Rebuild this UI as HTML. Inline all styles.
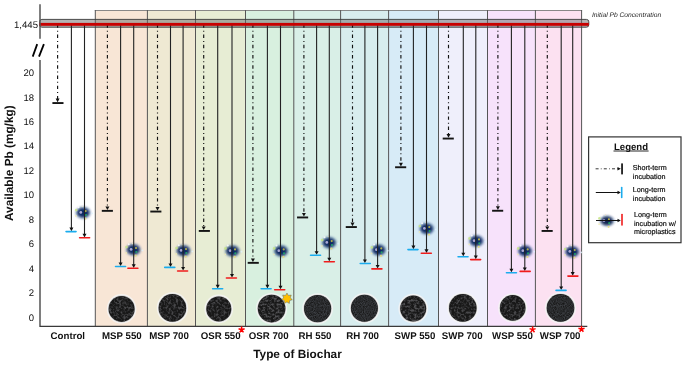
<!DOCTYPE html>
<html><head><meta charset="utf-8"><style>
html,body{margin:0;padding:0;background:#fff;width:685px;height:368px;overflow:hidden}
svg{display:block;will-change:transform}
text{font-family:"Liberation Sans", sans-serif;text-rendering:geometricPrecision}
</style></head><body>
<svg width="685" height="368" viewBox="0 0 685 368">
<defs>
<radialGradient id="blob" cx="50%" cy="50%" r="50%">
<stop offset="0" stop-color="#0a2456" stop-opacity="1"/>
<stop offset="0.35" stop-color="#0d2a62" stop-opacity="0.97"/>
<stop offset="0.6" stop-color="#28488a" stop-opacity="0.6"/>
<stop offset="0.82" stop-color="#7890c0" stop-opacity="0.22"/>
<stop offset="1" stop-color="#b0c4e4" stop-opacity="0"/>
</radialGradient>
<radialGradient id="halo" cx="50%" cy="50%" r="50%">
<stop offset="0.82" stop-color="#e8e8e8" stop-opacity="1"/>
<stop offset="1" stop-color="#ffffff" stop-opacity="0"/>
</radialGradient>
<radialGradient id="glow" cx="50%" cy="50%" r="50%">
<stop offset="0" stop-color="#2a4478" stop-opacity="0.6"/>
<stop offset="0.6" stop-color="#7088b4" stop-opacity="0.3"/>
<stop offset="1" stop-color="#c0d0ea" stop-opacity="0"/>
</radialGradient>
<filter id="bblur" x="-50%" y="-50%" width="200%" height="200%"><feGaussianBlur stdDeviation="1.6"/></filter>
<filter id="soft2" x="-20%" y="-20%" width="140%" height="140%"><feGaussianBlur stdDeviation="0.7"/></filter>
<filter id="soft" x="-20%" y="-20%" width="140%" height="140%"><feGaussianBlur stdDeviation="0.5"/></filter>
<filter id="speck1" x="0" y="0" width="100%" height="100%" color-interpolation-filters="sRGB">
<feTurbulence type="fractalNoise" baseFrequency="0.42" numOctaves="2" seed="3" result="n"/>
<feColorMatrix in="n" type="matrix" values="0 0 0 0 0.28  0 0 0 0 0.28  0 0 0 0 0.29  0 0 0 3.2 -1.35" result="s"/>
<feComposite in="s" in2="SourceGraphic" operator="in"/>
</filter>
<filter id="speck2" x="0" y="0" width="100%" height="100%" color-interpolation-filters="sRGB">
<feTurbulence type="fractalNoise" baseFrequency="0.35 0.5" numOctaves="2" seed="7" result="n"/>
<feColorMatrix in="n" type="matrix" values="0 0 0 0 0.31  0 0 0 0 0.31  0 0 0 0 0.32  0 0 0 3.4 -1.4" result="s"/>
<feComposite in="s" in2="SourceGraphic" operator="in"/>
</filter>
<filter id="speck3" x="0" y="0" width="100%" height="100%" color-interpolation-filters="sRGB">
<feTurbulence type="fractalNoise" baseFrequency="1.1" numOctaves="1" seed="11" result="n"/>
<feColorMatrix in="n" type="matrix" values="0 0 0 0 0.24  0 0 0 0 0.25  0 0 0 0 0.27  0 0 0 2.0 -0.5" result="s"/>
<feComposite in="s" in2="SourceGraphic" operator="in"/>
</filter>
<marker id="ah" viewBox="0 0 4 4" refX="2" refY="4" markerWidth="4" markerHeight="4" markerUnits="userSpaceOnUse" orient="auto"></marker>
</defs>

<rect x="95.3" y="10.5" width="52.1" height="315.8" fill="#F8E6D6"/>
<rect x="147.4" y="10.5" width="48.1" height="315.8" fill="#EFE9D3"/>
<rect x="195.5" y="10.5" width="50.0" height="315.8" fill="#E7EDD4"/>
<rect x="245.5" y="10.5" width="48.3" height="315.8" fill="#D8F0DF"/>
<rect x="293.8" y="10.5" width="46.8" height="315.8" fill="#D9EFE7"/>
<rect x="340.6" y="10.5" width="48.0" height="315.8" fill="#D8EDEE"/>
<rect x="388.6" y="10.5" width="49.9" height="315.8" fill="#D7EBF7"/>
<rect x="438.5" y="10.5" width="49.0" height="315.8" fill="#EFEFFB"/>
<rect x="487.5" y="10.5" width="47.9" height="315.8" fill="#F7E2FB"/>
<rect x="535.4" y="10.5" width="46.2" height="315.8" fill="#FCE1F1"/>
<line x1="94.8" y1="10.5" x2="582.1" y2="10.5" stroke="#7c7c7c" stroke-width="0.9"/>
<line x1="95.3" y1="10.1" x2="95.3" y2="326.3" stroke="#555" stroke-width="1"/>
<line x1="147.4" y1="10.1" x2="147.4" y2="326.3" stroke="#555" stroke-width="1"/>
<line x1="195.5" y1="10.1" x2="195.5" y2="326.3" stroke="#555" stroke-width="1"/>
<line x1="245.5" y1="10.1" x2="245.5" y2="326.3" stroke="#555" stroke-width="1"/>
<line x1="293.8" y1="10.1" x2="293.8" y2="326.3" stroke="#555" stroke-width="1"/>
<line x1="340.6" y1="10.1" x2="340.6" y2="326.3" stroke="#555" stroke-width="1"/>
<line x1="388.6" y1="10.1" x2="388.6" y2="326.3" stroke="#555" stroke-width="1"/>
<line x1="438.5" y1="10.1" x2="438.5" y2="326.3" stroke="#555" stroke-width="1"/>
<line x1="487.5" y1="10.1" x2="487.5" y2="326.3" stroke="#555" stroke-width="1"/>
<line x1="535.4" y1="10.1" x2="535.4" y2="326.3" stroke="#555" stroke-width="1"/>
<line x1="581.6" y1="10.1" x2="581.6" y2="326.3" stroke="#555" stroke-width="1"/>
<rect x="39.5" y="19.4" width="549.3" height="7.8" rx="2.4" fill="rgba(105,105,105,0.5)" stroke="#3a3a3a" stroke-width="0.9"/>
<circle cx="121.6" cy="308.9" r="14.8" fill="#f6f6f6" opacity="0.85" filter="url(#soft2)"/>
<circle cx="121.6" cy="308.9" r="13.6" fill="#d0d0d0"/>
<circle cx="121.6" cy="308.9" r="13.0" fill="#181818"/>
<circle cx="121.6" cy="308.9" r="12.7" fill="#fff" filter="url(#speck1)"/>
<circle cx="172.4" cy="307.9" r="15.6" fill="#f6f6f6" opacity="0.85" filter="url(#soft2)"/>
<circle cx="172.4" cy="307.9" r="14.4" fill="#d0d0d0"/>
<circle cx="172.4" cy="307.9" r="13.8" fill="#181818"/>
<circle cx="172.4" cy="307.9" r="13.5" fill="#fff" filter="url(#speck1)"/>
<circle cx="218.8" cy="308.9" r="14.3" fill="#f6f6f6" opacity="0.85" filter="url(#soft2)"/>
<circle cx="218.8" cy="308.9" r="13.1" fill="#d0d0d0"/>
<circle cx="218.8" cy="308.9" r="12.5" fill="#181818"/>
<circle cx="218.8" cy="308.9" r="12.2" fill="#fff" filter="url(#speck1)"/>
<circle cx="271.6" cy="308.6" r="15.6" fill="#f6f6f6" opacity="0.85" filter="url(#soft2)"/>
<circle cx="271.6" cy="308.6" r="14.4" fill="#d0d0d0"/>
<circle cx="271.6" cy="308.6" r="13.8" fill="#181818"/>
<circle cx="271.6" cy="308.6" r="13.5" fill="#fff" filter="url(#speck2)"/>
<circle cx="317.6" cy="308.6" r="15.4" fill="#f6f6f6" opacity="0.85" filter="url(#soft2)"/>
<circle cx="317.6" cy="308.6" r="14.2" fill="#d0d0d0"/>
<circle cx="317.6" cy="308.6" r="13.6" fill="#181818"/>
<circle cx="317.6" cy="308.6" r="13.3" fill="#fff" filter="url(#speck3)"/>
<circle cx="364.4" cy="308.3" r="15.3" fill="#f6f6f6" opacity="0.85" filter="url(#soft2)"/>
<circle cx="364.4" cy="308.3" r="14.1" fill="#d0d0d0"/>
<circle cx="364.4" cy="308.3" r="13.5" fill="#181818"/>
<circle cx="364.4" cy="308.3" r="13.2" fill="#fff" filter="url(#speck3)"/>
<circle cx="413.2" cy="308.6" r="14.8" fill="#f6f6f6" opacity="0.85" filter="url(#soft2)"/>
<circle cx="413.2" cy="308.6" r="13.6" fill="#d0d0d0"/>
<circle cx="413.2" cy="308.6" r="13.0" fill="#181818"/>
<circle cx="413.2" cy="308.6" r="12.7" fill="#fff" filter="url(#speck2)"/>
<circle cx="462.8" cy="307.9" r="15.6" fill="#f6f6f6" opacity="0.85" filter="url(#soft2)"/>
<circle cx="462.8" cy="307.9" r="14.4" fill="#d0d0d0"/>
<circle cx="462.8" cy="307.9" r="13.8" fill="#181818"/>
<circle cx="462.8" cy="307.9" r="13.5" fill="#fff" filter="url(#speck1)"/>
<circle cx="512.7" cy="307.9" r="14.6" fill="#f6f6f6" opacity="0.85" filter="url(#soft2)"/>
<circle cx="512.7" cy="307.9" r="13.4" fill="#d0d0d0"/>
<circle cx="512.7" cy="307.9" r="12.8" fill="#181818"/>
<circle cx="512.7" cy="307.9" r="12.5" fill="#fff" filter="url(#speck1)"/>
<circle cx="560.5" cy="307.9" r="15.6" fill="#f6f6f6" opacity="0.85" filter="url(#soft2)"/>
<circle cx="560.5" cy="307.9" r="14.4" fill="#d0d0d0"/>
<circle cx="560.5" cy="307.9" r="13.8" fill="#181818"/>
<circle cx="560.5" cy="307.9" r="13.5" fill="#fff" filter="url(#speck3)"/>
<polygon points="286.95,293.00 288.43,295.44 291.25,295.07 290.26,297.74 292.31,299.72 289.61,300.62 289.34,303.46 286.95,301.90 284.56,303.46 284.29,300.62 281.59,299.72 283.64,297.74 282.65,295.07 285.47,295.44" fill="#FFC000" stroke="#5a6470" stroke-width="0.5"/>
<ellipse cx="83.1" cy="212.7" rx="9.8" ry="8.4" fill="url(#glow)"/>
<ellipse cx="83.1" cy="212.7" rx="6.4" ry="5.0" fill="#0e2a64" filter="url(#bblur)"/>
<circle cx="78.5" cy="207.2" r="1.0" fill="#ffffff" opacity="0.8" filter="url(#soft)"/>
<circle cx="76.2" cy="210.1" r="1.3" fill="#c8e880" opacity="0.8" filter="url(#soft)"/>
<circle cx="80.8" cy="212.4" r="1.4" fill="#d4c8f0" opacity="0.8" filter="url(#soft)"/>
<circle cx="85.7" cy="211.1" r="1.1" fill="#d8cc48" opacity="0.8" filter="url(#soft)"/>
<circle cx="86.0" cy="215.0" r="1.1" fill="#20b868" opacity="0.8" filter="url(#soft)"/>
<circle cx="85.4" cy="218.6" r="1.1" fill="#f0e070" opacity="0.8" filter="url(#soft)"/>
<circle cx="75.9" cy="216.0" r="0.9" fill="#f4eeb0" opacity="0.8" filter="url(#soft)"/>
<circle cx="82.3" cy="206.5" r="0.7" fill="#f0e8c8" opacity="0.8" filter="url(#soft)"/>
<circle cx="92.2" cy="213.4" r="0.9" fill="#e0f4ff" opacity="0.8" filter="url(#soft)"/>
<line x1="57.6" y1="24.4" x2="57.6" y2="99.0" stroke="#111" stroke-width="1.15" stroke-dasharray="3.4,2.9,1.0,2.92"/>
<path d="M55.60,98.60 L59.60,98.60 L57.60,102.20 Z" fill="#111"/>
<rect x="52.40" y="102.1" width="11.1" height="1.9" fill="#141414"/>
<line x1="71.4" y1="24.4" x2="71.4" y2="228.6" stroke="#222" stroke-width="1.1"/>
<path d="M69.40,227.60 L73.40,227.60 L71.40,231.20 Z" fill="#111"/>
<line x1="66.05" y1="231.6" x2="76.05" y2="231.6" stroke="#1AACEE" stroke-width="1.6" stroke-linecap="round"/>
<line x1="84.5" y1="24.4" x2="84.5" y2="234.8" stroke="#222" stroke-width="1.1"/>
<path d="M82.50,233.80 L86.50,233.80 L84.50,237.40 Z" fill="#111"/>
<line x1="79.60" y1="237.8" x2="89.60" y2="237.8" stroke="#F01C1C" stroke-width="1.6" stroke-linecap="round"/>
<ellipse cx="133.4" cy="249.7" rx="9.8" ry="8.4" fill="url(#glow)"/>
<ellipse cx="133.4" cy="249.7" rx="6.4" ry="5.0" fill="#0e2a64" filter="url(#bblur)"/>
<circle cx="128.8" cy="244.2" r="1.0" fill="#ffffff" opacity="0.8" filter="url(#soft)"/>
<circle cx="126.5" cy="247.1" r="1.3" fill="#c8e880" opacity="0.8" filter="url(#soft)"/>
<circle cx="131.1" cy="249.4" r="1.4" fill="#d4c8f0" opacity="0.8" filter="url(#soft)"/>
<circle cx="136.0" cy="248.1" r="1.1" fill="#d8cc48" opacity="0.8" filter="url(#soft)"/>
<circle cx="136.3" cy="252.0" r="1.1" fill="#20b868" opacity="0.8" filter="url(#soft)"/>
<circle cx="135.7" cy="255.6" r="1.1" fill="#f0e070" opacity="0.8" filter="url(#soft)"/>
<circle cx="126.2" cy="253.0" r="0.9" fill="#f4eeb0" opacity="0.8" filter="url(#soft)"/>
<circle cx="132.6" cy="243.5" r="0.7" fill="#f0e8c8" opacity="0.8" filter="url(#soft)"/>
<circle cx="142.5" cy="250.4" r="0.9" fill="#e0f4ff" opacity="0.8" filter="url(#soft)"/>
<line x1="107.4" y1="24.4" x2="107.4" y2="206.8" stroke="#111" stroke-width="1.15" stroke-dasharray="3.4,2.9,1.0,2.92"/>
<path d="M105.40,206.40 L109.40,206.40 L107.40,210.00 Z" fill="#111"/>
<rect x="101.80" y="209.9" width="11.1" height="1.9" fill="#141414"/>
<line x1="120.6" y1="24.4" x2="120.6" y2="263.5" stroke="#222" stroke-width="1.1"/>
<path d="M118.60,262.50 L122.60,262.50 L120.60,266.10 Z" fill="#111"/>
<line x1="115.55" y1="266.5" x2="125.55" y2="266.5" stroke="#1AACEE" stroke-width="1.6" stroke-linecap="round"/>
<line x1="133.7" y1="24.4" x2="133.7" y2="265.3" stroke="#222" stroke-width="1.1"/>
<path d="M131.70,264.30 L135.70,264.30 L133.70,267.90 Z" fill="#111"/>
<line x1="127.90" y1="268.3" x2="137.90" y2="268.3" stroke="#F01C1C" stroke-width="1.6" stroke-linecap="round"/>
<ellipse cx="183.4" cy="250.7" rx="9.8" ry="8.4" fill="url(#glow)"/>
<ellipse cx="183.4" cy="250.7" rx="6.4" ry="5.0" fill="#0e2a64" filter="url(#bblur)"/>
<circle cx="178.8" cy="245.2" r="1.0" fill="#ffffff" opacity="0.8" filter="url(#soft)"/>
<circle cx="176.5" cy="248.1" r="1.3" fill="#c8e880" opacity="0.8" filter="url(#soft)"/>
<circle cx="181.1" cy="250.4" r="1.4" fill="#d4c8f0" opacity="0.8" filter="url(#soft)"/>
<circle cx="186.0" cy="249.1" r="1.1" fill="#d8cc48" opacity="0.8" filter="url(#soft)"/>
<circle cx="186.3" cy="253.0" r="1.1" fill="#20b868" opacity="0.8" filter="url(#soft)"/>
<circle cx="185.7" cy="256.6" r="1.1" fill="#f0e070" opacity="0.8" filter="url(#soft)"/>
<circle cx="176.2" cy="254.0" r="0.9" fill="#f4eeb0" opacity="0.8" filter="url(#soft)"/>
<circle cx="182.6" cy="244.5" r="0.7" fill="#f0e8c8" opacity="0.8" filter="url(#soft)"/>
<circle cx="192.5" cy="251.4" r="0.9" fill="#e0f4ff" opacity="0.8" filter="url(#soft)"/>
<line x1="157.5" y1="24.4" x2="157.5" y2="207.5" stroke="#111" stroke-width="1.15" stroke-dasharray="3.4,2.9,1.0,2.92"/>
<path d="M155.50,207.10 L159.50,207.10 L157.50,210.70 Z" fill="#111"/>
<rect x="150.30" y="210.6" width="11.1" height="1.9" fill="#141414"/>
<line x1="170.5" y1="24.4" x2="170.5" y2="264.4" stroke="#222" stroke-width="1.1"/>
<path d="M168.50,263.40 L172.50,263.40 L170.50,267.00 Z" fill="#111"/>
<line x1="164.75" y1="267.4" x2="174.75" y2="267.4" stroke="#1AACEE" stroke-width="1.6" stroke-linecap="round"/>
<line x1="183.1" y1="24.4" x2="183.1" y2="268.0" stroke="#222" stroke-width="1.1"/>
<path d="M181.10,267.00 L185.10,267.00 L183.10,270.60 Z" fill="#111"/>
<line x1="177.60" y1="271.0" x2="187.60" y2="271.0" stroke="#F01C1C" stroke-width="1.6" stroke-linecap="round"/>
<ellipse cx="232.4" cy="251.0" rx="9.8" ry="8.4" fill="url(#glow)"/>
<ellipse cx="232.4" cy="251.0" rx="6.4" ry="5.0" fill="#0e2a64" filter="url(#bblur)"/>
<circle cx="227.8" cy="245.5" r="1.0" fill="#ffffff" opacity="0.8" filter="url(#soft)"/>
<circle cx="225.5" cy="248.4" r="1.3" fill="#c8e880" opacity="0.8" filter="url(#soft)"/>
<circle cx="230.1" cy="250.7" r="1.4" fill="#d4c8f0" opacity="0.8" filter="url(#soft)"/>
<circle cx="235.0" cy="249.4" r="1.1" fill="#d8cc48" opacity="0.8" filter="url(#soft)"/>
<circle cx="235.3" cy="253.3" r="1.1" fill="#20b868" opacity="0.8" filter="url(#soft)"/>
<circle cx="234.7" cy="256.9" r="1.1" fill="#f0e070" opacity="0.8" filter="url(#soft)"/>
<circle cx="225.2" cy="254.3" r="0.9" fill="#f4eeb0" opacity="0.8" filter="url(#soft)"/>
<circle cx="231.6" cy="244.8" r="0.7" fill="#f0e8c8" opacity="0.8" filter="url(#soft)"/>
<circle cx="241.5" cy="251.7" r="0.9" fill="#e0f4ff" opacity="0.8" filter="url(#soft)"/>
<line x1="203.7" y1="24.4" x2="203.7" y2="226.9" stroke="#111" stroke-width="1.15" stroke-dasharray="3.4,2.9,1.0,2.92"/>
<path d="M201.70,226.50 L205.70,226.50 L203.70,230.10 Z" fill="#111"/>
<rect x="198.80" y="230.0" width="11.1" height="1.9" fill="#141414"/>
<line x1="217.7" y1="24.4" x2="217.7" y2="285.8" stroke="#222" stroke-width="1.1"/>
<path d="M215.70,284.80 L219.70,284.80 L217.70,288.40 Z" fill="#111"/>
<line x1="212.65" y1="288.8" x2="222.65" y2="288.8" stroke="#1AACEE" stroke-width="1.6" stroke-linecap="round"/>
<line x1="232.0" y1="24.4" x2="232.0" y2="275.0" stroke="#222" stroke-width="1.1"/>
<path d="M230.00,274.00 L234.00,274.00 L232.00,277.60 Z" fill="#111"/>
<line x1="226.40" y1="278.0" x2="236.40" y2="278.0" stroke="#F01C1C" stroke-width="1.6" stroke-linecap="round"/>
<ellipse cx="281.1" cy="251.0" rx="9.8" ry="8.4" fill="url(#glow)"/>
<ellipse cx="281.1" cy="251.0" rx="6.4" ry="5.0" fill="#0e2a64" filter="url(#bblur)"/>
<circle cx="276.5" cy="245.5" r="1.0" fill="#ffffff" opacity="0.8" filter="url(#soft)"/>
<circle cx="274.2" cy="248.4" r="1.3" fill="#c8e880" opacity="0.8" filter="url(#soft)"/>
<circle cx="278.8" cy="250.7" r="1.4" fill="#d4c8f0" opacity="0.8" filter="url(#soft)"/>
<circle cx="283.7" cy="249.4" r="1.1" fill="#d8cc48" opacity="0.8" filter="url(#soft)"/>
<circle cx="284.0" cy="253.3" r="1.1" fill="#20b868" opacity="0.8" filter="url(#soft)"/>
<circle cx="283.4" cy="256.9" r="1.1" fill="#f0e070" opacity="0.8" filter="url(#soft)"/>
<circle cx="273.9" cy="254.3" r="0.9" fill="#f4eeb0" opacity="0.8" filter="url(#soft)"/>
<circle cx="280.3" cy="244.8" r="0.7" fill="#f0e8c8" opacity="0.8" filter="url(#soft)"/>
<circle cx="290.2" cy="251.7" r="0.9" fill="#e0f4ff" opacity="0.8" filter="url(#soft)"/>
<line x1="252.9" y1="24.4" x2="252.9" y2="258.8" stroke="#111" stroke-width="1.15" stroke-dasharray="3.4,2.9,1.0,2.92"/>
<path d="M250.90,258.40 L254.90,258.40 L252.90,262.00 Z" fill="#111"/>
<rect x="247.70" y="261.9" width="11.1" height="1.9" fill="#141414"/>
<line x1="267.4" y1="24.4" x2="267.4" y2="285.8" stroke="#222" stroke-width="1.1"/>
<path d="M265.40,284.80 L269.40,284.80 L267.40,288.40 Z" fill="#111"/>
<line x1="261.10" y1="288.8" x2="271.10" y2="288.8" stroke="#1AACEE" stroke-width="1.6" stroke-linecap="round"/>
<line x1="280.5" y1="24.4" x2="280.5" y2="286.7" stroke="#222" stroke-width="1.1"/>
<path d="M278.50,285.70 L282.50,285.70 L280.50,289.30 Z" fill="#111"/>
<line x1="274.70" y1="289.7" x2="284.70" y2="289.7" stroke="#F01C1C" stroke-width="1.6" stroke-linecap="round"/>
<ellipse cx="329.1" cy="242.7" rx="9.8" ry="8.4" fill="url(#glow)"/>
<ellipse cx="329.1" cy="242.7" rx="6.4" ry="5.0" fill="#0e2a64" filter="url(#bblur)"/>
<circle cx="324.5" cy="237.2" r="1.0" fill="#ffffff" opacity="0.8" filter="url(#soft)"/>
<circle cx="322.2" cy="240.1" r="1.3" fill="#c8e880" opacity="0.8" filter="url(#soft)"/>
<circle cx="326.8" cy="242.4" r="1.4" fill="#d4c8f0" opacity="0.8" filter="url(#soft)"/>
<circle cx="331.7" cy="241.1" r="1.1" fill="#d8cc48" opacity="0.8" filter="url(#soft)"/>
<circle cx="332.0" cy="245.0" r="1.1" fill="#20b868" opacity="0.8" filter="url(#soft)"/>
<circle cx="331.4" cy="248.6" r="1.1" fill="#f0e070" opacity="0.8" filter="url(#soft)"/>
<circle cx="321.9" cy="246.0" r="0.9" fill="#f4eeb0" opacity="0.8" filter="url(#soft)"/>
<circle cx="328.3" cy="236.5" r="0.7" fill="#f0e8c8" opacity="0.8" filter="url(#soft)"/>
<circle cx="338.2" cy="243.4" r="0.9" fill="#e0f4ff" opacity="0.8" filter="url(#soft)"/>
<line x1="303.9" y1="24.4" x2="303.9" y2="213.4" stroke="#111" stroke-width="1.15" stroke-dasharray="3.4,2.9,1.0,2.92"/>
<path d="M301.90,213.00 L305.90,213.00 L303.90,216.60 Z" fill="#111"/>
<rect x="297.05" y="216.5" width="11.1" height="1.9" fill="#141414"/>
<line x1="316.6" y1="24.4" x2="316.6" y2="252.2" stroke="#222" stroke-width="1.1"/>
<path d="M314.60,251.20 L318.60,251.20 L316.60,254.80 Z" fill="#111"/>
<line x1="310.55" y1="255.2" x2="320.55" y2="255.2" stroke="#1AACEE" stroke-width="1.6" stroke-linecap="round"/>
<line x1="329.3" y1="24.4" x2="329.3" y2="258.7" stroke="#222" stroke-width="1.1"/>
<path d="M327.30,257.70 L331.30,257.70 L329.30,261.30 Z" fill="#111"/>
<line x1="324.35" y1="261.7" x2="334.35" y2="261.7" stroke="#F01C1C" stroke-width="1.6" stroke-linecap="round"/>
<ellipse cx="378.7" cy="250.0" rx="9.8" ry="8.4" fill="url(#glow)"/>
<ellipse cx="378.7" cy="250.0" rx="6.4" ry="5.0" fill="#0e2a64" filter="url(#bblur)"/>
<circle cx="374.1" cy="244.5" r="1.0" fill="#ffffff" opacity="0.8" filter="url(#soft)"/>
<circle cx="371.8" cy="247.4" r="1.3" fill="#c8e880" opacity="0.8" filter="url(#soft)"/>
<circle cx="376.4" cy="249.7" r="1.4" fill="#d4c8f0" opacity="0.8" filter="url(#soft)"/>
<circle cx="381.3" cy="248.4" r="1.1" fill="#d8cc48" opacity="0.8" filter="url(#soft)"/>
<circle cx="381.6" cy="252.3" r="1.1" fill="#20b868" opacity="0.8" filter="url(#soft)"/>
<circle cx="381.0" cy="255.9" r="1.1" fill="#f0e070" opacity="0.8" filter="url(#soft)"/>
<circle cx="371.5" cy="253.3" r="0.9" fill="#f4eeb0" opacity="0.8" filter="url(#soft)"/>
<circle cx="377.9" cy="243.8" r="0.7" fill="#f0e8c8" opacity="0.8" filter="url(#soft)"/>
<circle cx="387.8" cy="250.7" r="0.9" fill="#e0f4ff" opacity="0.8" filter="url(#soft)"/>
<line x1="352.5" y1="24.4" x2="352.5" y2="223.0" stroke="#111" stroke-width="1.15" stroke-dasharray="3.4,2.9,1.0,2.92"/>
<path d="M350.50,222.60 L354.50,222.60 L352.50,226.20 Z" fill="#111"/>
<rect x="345.75" y="226.1" width="11.1" height="1.9" fill="#141414"/>
<line x1="364.9" y1="24.4" x2="364.9" y2="260.5" stroke="#222" stroke-width="1.1"/>
<path d="M362.90,259.50 L366.90,259.50 L364.90,263.10 Z" fill="#111"/>
<line x1="360.25" y1="263.5" x2="370.25" y2="263.5" stroke="#1AACEE" stroke-width="1.6" stroke-linecap="round"/>
<line x1="377.6" y1="24.4" x2="377.6" y2="265.9" stroke="#222" stroke-width="1.1"/>
<path d="M375.60,264.90 L379.60,264.90 L377.60,268.50 Z" fill="#111"/>
<line x1="371.90" y1="268.9" x2="381.90" y2="268.9" stroke="#F01C1C" stroke-width="1.6" stroke-linecap="round"/>
<ellipse cx="426.7" cy="228.7" rx="9.8" ry="8.4" fill="url(#glow)"/>
<ellipse cx="426.7" cy="228.7" rx="6.4" ry="5.0" fill="#0e2a64" filter="url(#bblur)"/>
<circle cx="422.1" cy="223.2" r="1.0" fill="#ffffff" opacity="0.8" filter="url(#soft)"/>
<circle cx="419.8" cy="226.1" r="1.3" fill="#c8e880" opacity="0.8" filter="url(#soft)"/>
<circle cx="424.4" cy="228.4" r="1.4" fill="#d4c8f0" opacity="0.8" filter="url(#soft)"/>
<circle cx="429.3" cy="227.1" r="1.1" fill="#d8cc48" opacity="0.8" filter="url(#soft)"/>
<circle cx="429.6" cy="231.0" r="1.1" fill="#20b868" opacity="0.8" filter="url(#soft)"/>
<circle cx="429.0" cy="234.6" r="1.1" fill="#f0e070" opacity="0.8" filter="url(#soft)"/>
<circle cx="419.5" cy="232.0" r="0.9" fill="#f4eeb0" opacity="0.8" filter="url(#soft)"/>
<circle cx="425.9" cy="222.5" r="0.7" fill="#f0e8c8" opacity="0.8" filter="url(#soft)"/>
<circle cx="435.8" cy="229.4" r="0.9" fill="#e0f4ff" opacity="0.8" filter="url(#soft)"/>
<line x1="400.9" y1="24.4" x2="400.9" y2="163.2" stroke="#111" stroke-width="1.15" stroke-dasharray="3.4,2.9,1.0,2.92"/>
<path d="M398.90,162.80 L402.90,162.80 L400.90,166.40 Z" fill="#111"/>
<rect x="395.10" y="166.3" width="11.1" height="1.9" fill="#141414"/>
<line x1="413.4" y1="24.4" x2="413.4" y2="246.6" stroke="#222" stroke-width="1.1"/>
<path d="M411.40,245.60 L415.40,245.60 L413.40,249.20 Z" fill="#111"/>
<line x1="407.95" y1="249.6" x2="417.95" y2="249.6" stroke="#1AACEE" stroke-width="1.6" stroke-linecap="round"/>
<line x1="426.5" y1="24.4" x2="426.5" y2="250.3" stroke="#222" stroke-width="1.1"/>
<path d="M424.50,249.30 L428.50,249.30 L426.50,252.90 Z" fill="#111"/>
<line x1="421.30" y1="253.3" x2="431.30" y2="253.3" stroke="#F01C1C" stroke-width="1.6" stroke-linecap="round"/>
<ellipse cx="476.4" cy="241.0" rx="9.8" ry="8.4" fill="url(#glow)"/>
<ellipse cx="476.4" cy="241.0" rx="6.4" ry="5.0" fill="#0e2a64" filter="url(#bblur)"/>
<circle cx="471.8" cy="235.5" r="1.0" fill="#ffffff" opacity="0.8" filter="url(#soft)"/>
<circle cx="469.5" cy="238.4" r="1.3" fill="#c8e880" opacity="0.8" filter="url(#soft)"/>
<circle cx="474.1" cy="240.7" r="1.4" fill="#d4c8f0" opacity="0.8" filter="url(#soft)"/>
<circle cx="479.0" cy="239.4" r="1.1" fill="#d8cc48" opacity="0.8" filter="url(#soft)"/>
<circle cx="479.3" cy="243.3" r="1.1" fill="#20b868" opacity="0.8" filter="url(#soft)"/>
<circle cx="478.7" cy="246.9" r="1.1" fill="#f0e070" opacity="0.8" filter="url(#soft)"/>
<circle cx="469.2" cy="244.3" r="0.9" fill="#f4eeb0" opacity="0.8" filter="url(#soft)"/>
<circle cx="475.6" cy="234.8" r="0.7" fill="#f0e8c8" opacity="0.8" filter="url(#soft)"/>
<circle cx="485.5" cy="241.7" r="0.9" fill="#e0f4ff" opacity="0.8" filter="url(#soft)"/>
<line x1="448.5" y1="24.4" x2="448.5" y2="134.5" stroke="#111" stroke-width="1.15" stroke-dasharray="3.4,2.9,1.0,2.92"/>
<path d="M446.50,134.10 L450.50,134.10 L448.50,137.70 Z" fill="#111"/>
<rect x="442.70" y="137.6" width="11.1" height="1.9" fill="#141414"/>
<line x1="463.3" y1="24.4" x2="463.3" y2="253.7" stroke="#222" stroke-width="1.1"/>
<path d="M461.30,252.70 L465.30,252.70 L463.30,256.30 Z" fill="#111"/>
<line x1="458.05" y1="256.7" x2="468.05" y2="256.7" stroke="#1AACEE" stroke-width="1.6" stroke-linecap="round"/>
<line x1="475.8" y1="24.4" x2="475.8" y2="256.6" stroke="#222" stroke-width="1.1"/>
<path d="M473.80,255.60 L477.80,255.60 L475.80,259.20 Z" fill="#111"/>
<line x1="470.65" y1="259.6" x2="480.65" y2="259.6" stroke="#F01C1C" stroke-width="1.6" stroke-linecap="round"/>
<ellipse cx="525.1" cy="251.0" rx="9.8" ry="8.4" fill="url(#glow)"/>
<ellipse cx="525.1" cy="251.0" rx="6.4" ry="5.0" fill="#0e2a64" filter="url(#bblur)"/>
<circle cx="520.5" cy="245.5" r="1.0" fill="#ffffff" opacity="0.8" filter="url(#soft)"/>
<circle cx="518.2" cy="248.4" r="1.3" fill="#c8e880" opacity="0.8" filter="url(#soft)"/>
<circle cx="522.8" cy="250.7" r="1.4" fill="#d4c8f0" opacity="0.8" filter="url(#soft)"/>
<circle cx="527.7" cy="249.4" r="1.1" fill="#d8cc48" opacity="0.8" filter="url(#soft)"/>
<circle cx="528.0" cy="253.3" r="1.1" fill="#20b868" opacity="0.8" filter="url(#soft)"/>
<circle cx="527.4" cy="256.9" r="1.1" fill="#f0e070" opacity="0.8" filter="url(#soft)"/>
<circle cx="517.9" cy="254.3" r="0.9" fill="#f4eeb0" opacity="0.8" filter="url(#soft)"/>
<circle cx="524.3" cy="244.8" r="0.7" fill="#f0e8c8" opacity="0.8" filter="url(#soft)"/>
<circle cx="534.2" cy="251.7" r="0.9" fill="#e0f4ff" opacity="0.8" filter="url(#soft)"/>
<line x1="497.9" y1="24.4" x2="497.9" y2="206.7" stroke="#111" stroke-width="1.15" stroke-dasharray="3.4,2.9,1.0,2.92"/>
<path d="M495.90,206.30 L499.90,206.30 L497.90,209.90 Z" fill="#111"/>
<rect x="492.10" y="209.8" width="11.1" height="1.9" fill="#141414"/>
<line x1="511.4" y1="24.4" x2="511.4" y2="269.7" stroke="#222" stroke-width="1.1"/>
<path d="M509.40,268.70 L513.40,268.70 L511.40,272.30 Z" fill="#111"/>
<line x1="506.45" y1="272.7" x2="516.45" y2="272.7" stroke="#1AACEE" stroke-width="1.6" stroke-linecap="round"/>
<line x1="524.8" y1="24.4" x2="524.8" y2="268.4" stroke="#222" stroke-width="1.1"/>
<path d="M522.80,267.40 L526.80,267.40 L524.80,271.00 Z" fill="#111"/>
<line x1="520.15" y1="271.4" x2="530.15" y2="271.4" stroke="#F01C1C" stroke-width="1.6" stroke-linecap="round"/>
<ellipse cx="572.1" cy="251.7" rx="9.8" ry="8.4" fill="url(#glow)"/>
<ellipse cx="572.1" cy="251.7" rx="6.4" ry="5.0" fill="#0e2a64" filter="url(#bblur)"/>
<circle cx="567.5" cy="246.2" r="1.0" fill="#ffffff" opacity="0.8" filter="url(#soft)"/>
<circle cx="565.2" cy="249.1" r="1.3" fill="#c8e880" opacity="0.8" filter="url(#soft)"/>
<circle cx="569.8" cy="251.4" r="1.4" fill="#d4c8f0" opacity="0.8" filter="url(#soft)"/>
<circle cx="574.7" cy="250.1" r="1.1" fill="#d8cc48" opacity="0.8" filter="url(#soft)"/>
<circle cx="575.0" cy="254.0" r="1.1" fill="#20b868" opacity="0.8" filter="url(#soft)"/>
<circle cx="574.4" cy="257.6" r="1.1" fill="#f0e070" opacity="0.8" filter="url(#soft)"/>
<circle cx="564.9" cy="255.0" r="0.9" fill="#f4eeb0" opacity="0.8" filter="url(#soft)"/>
<circle cx="571.3" cy="245.5" r="0.7" fill="#f0e8c8" opacity="0.8" filter="url(#soft)"/>
<circle cx="581.2" cy="252.4" r="0.9" fill="#e0f4ff" opacity="0.8" filter="url(#soft)"/>
<line x1="547.3" y1="24.4" x2="547.3" y2="226.9" stroke="#111" stroke-width="1.15" stroke-dasharray="3.4,2.9,1.0,2.92"/>
<path d="M545.30,226.50 L549.30,226.50 L547.30,230.10 Z" fill="#111"/>
<rect x="541.60" y="230.0" width="11.1" height="1.9" fill="#141414"/>
<line x1="561.2" y1="24.4" x2="561.2" y2="287.4" stroke="#222" stroke-width="1.1"/>
<path d="M559.20,286.40 L563.20,286.40 L561.20,290.00 Z" fill="#111"/>
<line x1="556.05" y1="290.4" x2="566.05" y2="290.4" stroke="#1AACEE" stroke-width="1.6" stroke-linecap="round"/>
<line x1="572.7" y1="24.4" x2="572.7" y2="273.1" stroke="#222" stroke-width="1.1"/>
<path d="M570.70,272.10 L574.70,272.10 L572.70,275.70 Z" fill="#111"/>
<line x1="567.90" y1="276.1" x2="577.90" y2="276.1" stroke="#F01C1C" stroke-width="1.6" stroke-linecap="round"/>
<rect x="39" y="22.9" width="549.8" height="2.9" fill="#C80000"/>
<line x1="40" y1="4.2" x2="40" y2="38.7" stroke="#555" stroke-width="1.5"/>
<polyline points="40,59.9 40,326.4 587.3,326.4" fill="none" stroke="#3a3a3a" stroke-width="1.3"/>
<line x1="37.2" y1="44.1" x2="32.7" y2="56.6" stroke="#000" stroke-width="1.8"/>
<line x1="43.9" y1="44.1" x2="39.0" y2="56.6" stroke="#000" stroke-width="1.8"/>
<text x="34" y="320.8" font-size="9.5" text-anchor="end" fill="#111">0</text>
<text x="34" y="296.3" font-size="9.5" text-anchor="end" fill="#111">2</text>
<text x="34" y="271.8" font-size="9.5" text-anchor="end" fill="#111">4</text>
<text x="34" y="247.4" font-size="9.5" text-anchor="end" fill="#111">6</text>
<text x="34" y="222.9" font-size="9.5" text-anchor="end" fill="#111">8</text>
<text x="34" y="198.4" font-size="9.5" text-anchor="end" fill="#111">10</text>
<text x="34" y="173.9" font-size="9.5" text-anchor="end" fill="#111">12</text>
<text x="34" y="149.4" font-size="9.5" text-anchor="end" fill="#111">14</text>
<text x="34" y="125.0" font-size="9.5" text-anchor="end" fill="#111">16</text>
<text x="34" y="100.5" font-size="9.5" text-anchor="end" fill="#111">18</text>
<text x="34" y="76.0" font-size="9.5" text-anchor="end" fill="#111">20</text>
<text x="38" y="27.8" font-size="9.6" text-anchor="end" fill="#111">1,445</text>
<text transform="translate(13.3,221) rotate(-90)" font-size="11.8" font-weight="bold" fill="#111">Available Pb (mg/kg)</text>
<text x="67.80" y="339" font-size="9.7" font-weight="bold" text-anchor="middle" fill="#111">Control</text>
<text x="121.85" y="339" font-size="9.7" font-weight="bold" text-anchor="middle" fill="#111">MSP 550</text>
<text x="169.05" y="339" font-size="9.7" font-weight="bold" text-anchor="middle" fill="#111">MSP 700</text>
<text x="220.65" y="339" font-size="9.7" font-weight="bold" text-anchor="middle" fill="#111">OSR 550</text>
<text x="268.70" y="339" font-size="9.7" font-weight="bold" text-anchor="middle" fill="#111">OSR 700</text>
<text x="315.05" y="339" font-size="9.7" font-weight="bold" text-anchor="middle" fill="#111">RH 550</text>
<text x="362.60" y="339" font-size="9.7" font-weight="bold" text-anchor="middle" fill="#111">RH 700</text>
<text x="414.95" y="339" font-size="9.7" font-weight="bold" text-anchor="middle" fill="#111">SWP 550</text>
<text x="462.20" y="339" font-size="9.7" font-weight="bold" text-anchor="middle" fill="#111">SWP 700</text>
<text x="512.45" y="339" font-size="9.7" font-weight="bold" text-anchor="middle" fill="#111">WSP 550</text>
<text x="560.15" y="339" font-size="9.7" font-weight="bold" text-anchor="middle" fill="#111">WSP 700</text>
<text x="297.5" y="358.2" font-size="11.85" font-weight="bold" text-anchor="middle" fill="#111">Type of Biochar</text>
<path d="M241.60,329.80 L241.60,326.60 M241.60,329.80 L244.64,328.81 M241.60,329.80 L243.48,332.39 M241.60,329.80 L239.72,332.39 M241.60,329.80 L238.56,328.81 " stroke="#FF0000" stroke-width="1.5" stroke-linecap="butt"/>
<path d="M532.60,329.60 L532.60,326.40 M532.60,329.60 L535.64,328.61 M532.60,329.60 L534.48,332.19 M532.60,329.60 L530.72,332.19 M532.60,329.60 L529.56,328.61 " stroke="#FF0000" stroke-width="1.5" stroke-linecap="butt"/>
<path d="M581.50,329.20 L581.50,326.00 M581.50,329.20 L584.54,328.21 M581.50,329.20 L583.38,331.79 M581.50,329.20 L579.62,331.79 M581.50,329.20 L578.46,328.21 " stroke="#FF0000" stroke-width="1.5" stroke-linecap="butt"/>
<text x="592" y="17" font-size="6.7" font-style="italic" fill="#222">Initial Pb Concentration</text>
<rect x="588.6" y="136.9" width="92.4" height="105.8" fill="#fff" stroke="#333" stroke-width="1.2"/>
<text x="631" y="149.6" font-size="9.6" font-weight="bold" text-anchor="middle" fill="#111">Legend</text>
<line x1="613.5" y1="151" x2="648.6" y2="151" stroke="#111" stroke-width="0.9"/>
<line x1="595.6" y1="168.8" x2="618.5" y2="168.8" stroke="#222" stroke-width="0.9" stroke-dasharray="3,2.2,0.8,2.2"/>
<path d="M617.5,167.1 L617.5,170.5 L620.8,168.8 Z" fill="#111"/>
<rect x="621.2" y="163.4" width="1.7" height="11" fill="#111"/>
<text x="632.8" y="170.4" font-size="7.2" fill="#000" stroke="#000" stroke-width="0.15">Short-term</text>
<text x="632.8" y="178.8" font-size="7.2" fill="#000" stroke="#000" stroke-width="0.15">incubation</text>
<line x1="595.8" y1="192.5" x2="618" y2="192.5" stroke="#111" stroke-width="1"/>
<path d="M617.5,190.8 L617.5,194.2 L620.8,192.5 Z" fill="#111"/>
<line x1="621.7" y1="187.5" x2="621.7" y2="197.5" stroke="#1AACEE" stroke-width="1.6" stroke-linecap="round"/>
<text x="632.8" y="192" font-size="7.2" fill="#000" stroke="#000" stroke-width="0.15">Long-term</text>
<text x="632.8" y="200.5" font-size="7.2" fill="#000" stroke="#000" stroke-width="0.15">incubation</text>
<ellipse cx="607" cy="220.9" rx="10" ry="7.2" fill="url(#glow)"/>
<ellipse cx="607" cy="220.9" rx="6.0" ry="4.3" fill="#0a2050" filter="url(#bblur)"/>
<circle cx="601.7" cy="215.4" r="1.0" fill="#ffffff" opacity="0.8" filter="url(#soft)"/>
<circle cx="599.4" cy="218.3" r="1.3" fill="#c8e880" opacity="0.8" filter="url(#soft)"/>
<circle cx="604.0" cy="220.6" r="1.4" fill="#d4c8f0" opacity="0.8" filter="url(#soft)"/>
<circle cx="608.9" cy="219.3" r="1.1" fill="#d8cc48" opacity="0.8" filter="url(#soft)"/>
<circle cx="609.2" cy="223.2" r="1.1" fill="#20b868" opacity="0.8" filter="url(#soft)"/>
<circle cx="608.6" cy="226.8" r="1.1" fill="#f0e070" opacity="0.8" filter="url(#soft)"/>
<circle cx="599.1" cy="224.2" r="0.9" fill="#f4eeb0" opacity="0.8" filter="url(#soft)"/>
<circle cx="605.5" cy="214.7" r="0.7" fill="#f0e8c8" opacity="0.8" filter="url(#soft)"/>
<circle cx="615.4" cy="221.6" r="0.9" fill="#e0f4ff" opacity="0.8" filter="url(#soft)"/>
<line x1="596" y1="220.5" x2="618" y2="220.5" stroke="#111" stroke-width="1"/>
<path d="M617.5,218.8 L617.5,222.2 L620.8,220.5 Z" fill="#111"/>
<line x1="622" y1="214.5" x2="622" y2="225" stroke="#F01C1C" stroke-width="1.6" stroke-linecap="round"/>
<text x="634" y="217.3" font-size="7.2" fill="#000" stroke="#000" stroke-width="0.15">Long-term</text>
<text x="634" y="225.9" font-size="7.2" fill="#000" stroke="#000" stroke-width="0.15">incubation w/</text>
<text x="634" y="234" font-size="7.2" fill="#000" stroke="#000" stroke-width="0.15">microplastics</text>
</svg></body></html>
